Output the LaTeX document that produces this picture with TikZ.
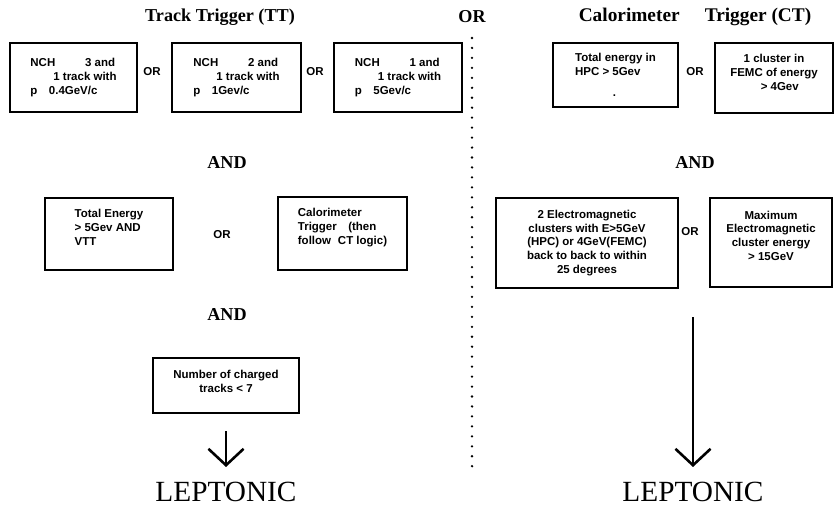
\documentclass[tikz,border=0pt]{standalone}
\usepackage{fontspec}
\setmainfont{Liberation Serif}
\setsansfont{Liberation Sans}
\usetikzlibrary{arrows.meta}
\tikzset{
	boxfont/.style={font=\sffamily\bfseries\fontsize{9.8}{11.8}\selectfont},
	trig/.style={boxfont, draw, line width=1.8pt, inner sep=2pt},
	head/.style={font=\bfseries\fontsize{15.5}{18}\selectfont},
	lep/.style={font=\fontsize{25}{28}\selectfont, inner sep=0pt},
	arr/.style={line width=2.2pt, -{Straight Barb[length=14pt,width=30pt]}}
}
\begin{document}
\begin{tikzpicture}[x=0.03cm, y=-0.03cm]
	\useasboundingbox (0,0) rectangle (834,508);
	
	% headings and separator
	\node[head] (tt) at (220,17) {Track Trigger (TT)};
	\node[head] (or0) at (472,17) {OR};
	\node[head, font=\bfseries\fontsize{16.5}{19}\selectfont] (ct) at (695,17) {Calorimeter\hspace{1.3em}Trigger (CT)};
	\draw[line width=2.2pt, line cap=round, dash pattern=on 0pt off 8.5pt] (472,38) -- (472,472);
	
	% track trigger, first row
	\node[trig, minimum width=3.81cm, minimum height=2.07cm, align=left] (nch3) at (73.5,77.5)
		{NCH\hspace{2.6em}3 and\\\hspace{2em}1 track with\\p\hspace{1em}0.4GeV/c};
	\node[trig, minimum width=3.87cm, minimum height=2.07cm, align=left] (nch2) at (236.5,77.5)
		{NCH\hspace{2.6em}2 and\\\hspace{2em}1 track with\\p\hspace{1em}1Gev/c};
	\node[trig, minimum width=3.84cm, minimum height=2.07cm, align=left] (nch1) at (398,77.5)
		{NCH\hspace{2.6em}1 and\\\hspace{2em}1 track with\\p\hspace{1em}5Gev/c};
	\node[boxfont] (or1) at (152,72) {OR};
	\node[boxfont] (or2) at (315,72) {OR};
	
	\node[head] (and1) at (227,163) {AND};
	
	% track trigger, second row
	\node[trig, minimum width=3.84cm, minimum height=2.16cm, align=left] (etot) at (109,234)
		{Total Energy\\> 5Gev AND\\VTT\\\mbox{}};
	\node[trig, minimum width=3.87cm, minimum height=2.19cm, align=left] (calo) at (342.5,233.5)
		{Calorimeter\\Trigger\hspace{1em}(then\\follow\hspace{0.6em}CT logic)\\\mbox{}};
	\node[boxfont] (or4) at (222,235) {OR};
	
	\node[head] (and2) at (227,315) {AND};
	
	\node[trig, minimum width=4.38cm, minimum height=1.65cm, align=center] (nchg) at (226,385.5)
		{Number of charged\\tracks < 7\\[-4pt]\mbox{}};
	\node[lep] (lepL) at (226,492) {LEPTONIC};
	\draw[arr, shorten <=14.5pt, shorten >=12.75pt] (nchg.south) -- (lepL.north);
	
	% calorimeter trigger, first row
	\node[trig, minimum width=3.75cm, minimum height=1.92cm, align=left] (hpc) at (615.5,75)
		{Total energy in\\HPC > 5Gev\\[6pt]\hspace{3.3em}.};
	\node[trig, minimum width=3.54cm, minimum height=2.10cm, align=center] (femc) at (774,78)
		{1 cluster in\\FEMC of energy\\\hspace{1em}> 4Gev\\[-2pt]\mbox{}};
	\node[boxfont] (or3) at (695,72) {OR};
	
	\node[head] (and3) at (695,163) {AND};
	
	% calorimeter trigger, second row
	\node[trig, minimum width=5.46cm, minimum height=2.70cm, align=center] (twoem) at (587,243)
		{2 Electromagnetic\\clusters with E>5GeV\\(HPC) or 4GeV(FEMC)\\back to back to within\\25 degrees};
	\node[trig, minimum width=3.66cm, minimum height=2.67cm, align=center] (maxem) at (771,242.5)
		{Maximum\\Electromagnetic\\cluster energy\\> 15GeV\\\mbox{}};
	\node[boxfont] (or5) at (690,232) {OR};
	
	\coordinate (ctend) at (693,317);
	\node[lep] (lepR) at (693,492) {LEPTONIC};
	\draw[arr, shorten >=12.75pt] (ctend) -- (lepR.north);
\end{tikzpicture}
\end{document}
